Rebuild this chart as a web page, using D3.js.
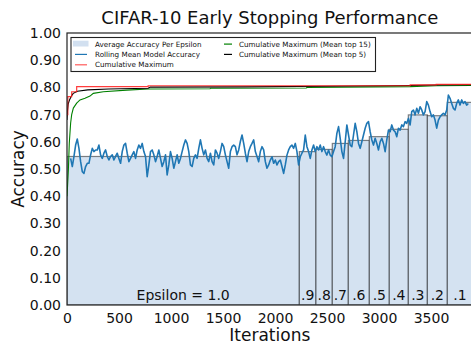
<!DOCTYPE html>
<html>
<head>
<meta charset="utf-8">
<script src="https://cdn.jsdelivr.net/npm/d3@7"></script>
<style>
  html, body { margin: 0; padding: 0; background: #fff; }
  svg { display: block; font-family: "DejaVu Sans", sans-serif; }
</style>
</head>
<body>
<svg id="chart" width="471" height="344"></svg>
<script>
// ---- data ----
const epsilonLabels = ["Epsilon = 1.0", ".9", ".8", ".7", ".6", ".5", ".4", ".3", ".2", ".1"];
const epsilonStarts = [0, 2234, 2394, 2551, 2705, 2907, 3099, 3282, 3465, 3657];
const lastIteration = 3900;
const epsilonAverages = [0.546, 0.564, 0.572, 0.594, 0.605, 0.619, 0.646, 0.699, 0.696, 0.745];

// rolling mean of model accuracy, sampled every 16 iterations from iteration 35
const rollingStart = 35;
const rollingStep = 16;
const rollingMean = [
  0.539, 0.509, 0.546, 0.588, 0.610, 0.576, 0.527, 0.490, 0.484, 0.509,
  0.521, 0.521, 0.552, 0.576, 0.564, 0.570, 0.570, 0.588, 0.552, 0.539,
  0.558, 0.570, 0.546, 0.533, 0.546, 0.552, 0.533, 0.546, 0.558, 0.539,
  0.521, 0.564, 0.588, 0.594, 0.558, 0.527, 0.539, 0.552, 0.564, 0.539,
  0.570, 0.588, 0.576, 0.594, 0.564, 0.546, 0.472, 0.515, 0.564, 0.570,
  0.552, 0.527, 0.546, 0.570, 0.539, 0.509, 0.527, 0.552, 0.478, 0.515,
  0.564, 0.539, 0.503, 0.527, 0.552, 0.521, 0.539, 0.564, 0.588, 0.607,
  0.594, 0.564, 0.515, 0.509, 0.539, 0.552, 0.539, 0.576, 0.607, 0.576,
  0.552, 0.570, 0.539, 0.527, 0.558, 0.527, 0.515, 0.570, 0.558, 0.539,
  0.564, 0.594, 0.582, 0.552, 0.527, 0.503, 0.564, 0.582, 0.588, 0.582,
  0.552, 0.570, 0.601, 0.625, 0.594, 0.558, 0.527, 0.564, 0.582, 0.594,
  0.607, 0.564, 0.546, 0.527, 0.564, 0.582, 0.570, 0.527, 0.503, 0.515,
  0.533, 0.545, 0.521, 0.533, 0.515, 0.527, 0.533, 0.509, 0.484, 0.515,
  0.551, 0.570, 0.582, 0.588, 0.576, 0.594, 0.564, 0.515, 0.545, 0.558,
  0.570, 0.625, 0.582, 0.564, 0.539, 0.570, 0.588, 0.564, 0.582, 0.570,
  0.588, 0.564, 0.582, 0.564, 0.551, 0.570, 0.551, 0.545, 0.564, 0.582,
  0.631, 0.656, 0.613, 0.564, 0.539, 0.600, 0.662, 0.625, 0.588, 0.582,
  0.625, 0.668, 0.637, 0.594, 0.576, 0.600, 0.625, 0.650, 0.668, 0.674,
  0.637, 0.607, 0.588, 0.613, 0.594, 0.570, 0.600, 0.613, 0.594, 0.564,
  0.607, 0.643, 0.637, 0.662, 0.643, 0.637, 0.619, 0.650, 0.643, 0.662,
  0.656, 0.674, 0.668, 0.686, 0.662, 0.711, 0.717, 0.699, 0.723, 0.705,
  0.729, 0.717, 0.699, 0.711, 0.748, 0.735, 0.711, 0.692, 0.699, 0.680,
  0.650, 0.680, 0.692, 0.699, 0.705, 0.699, 0.717, 0.772, 0.760, 0.741,
  0.723, 0.717, 0.741, 0.754, 0.735, 0.754, 0.741, 0.748, 0.735, 0.741
];

// cumulative maximum (step function): iteration, accuracy
const cumMaxIter  = [0, 8, 45, 93, 780, 3300, 3550, 3900];
const cumMaxValue = [0.700, 0.766, 0.784, 0.803, 0.806, 0.809, 0.811, 0.811];

// cumulative maximum, mean of top 5
const top5Iter  = [0, 5, 12, 25, 45, 60, 100, 200, 400, 780, 800, 1700, 2500, 3300, 3550, 3900];
const top5Value = [0.680, 0.715, 0.740, 0.755, 0.770, 0.778, 0.786, 0.791, 0.794, 0.797, 0.801, 0.802, 0.804, 0.807, 0.809, 0.810];

// cumulative maximum, mean of top 15
const top15Iter  = [0, 3, 13, 22, 35, 45, 61, 93, 125, 173, 221, 253, 349, 574, 782, 1375, 1380, 2300, 2310, 3300, 3550, 3900];
const top15Value = [0.400, 0.420, 0.496, 0.595, 0.669, 0.700, 0.724, 0.742, 0.754, 0.760, 0.768, 0.778, 0.784, 0.790, 0.794, 0.795, 0.797, 0.798, 0.800, 0.803, 0.806, 0.807];

const yTicks = [0, 0.1, 0.2, 0.3, 0.4, 0.5, 0.6, 0.7, 0.8, 0.9, 1.0];
const xTicks = [0, 500, 1000, 1500, 2000, 2500, 3000, 3500];

const legendItems = [
  { label: "Average Accuracy Per Epsilon", kind: "patch", color: "#d2e0f0", col: 0, row: 0 },
  { label: "Rolling Mean Model Accuracy", kind: "line", color: "#1f77b4", col: 0, row: 1 },
  { label: "Cumulative Maximum", kind: "line", color: "#ff5a5a", col: 0, row: 2 },
  { label: "Cumulative Maximum (Mean top 15)", kind: "line", color: "#008000", col: 1, row: 0 },
  { label: "Cumulative Maximum (Mean top 5)", kind: "line", color: "#000000", col: 1, row: 1 }
];

// ---- layout ----
const svg = d3.select("#chart");
const plot = { left: 67, top: 33, right: 472.6, bottom: 305 };

const x = d3.scaleLinear().domain([0, lastIteration]).range([plot.left, plot.right]);
const y = d3.scaleLinear().domain([0, 1]).range([plot.bottom, plot.top]);

svg.append("defs").append("clipPath").attr("id", "plotClip")
  .append("rect")
  .attr("x", plot.left).attr("y", plot.top)
  .attr("width", plot.right - plot.left).attr("height", plot.bottom - plot.top);

const g = svg.append("g").attr("clip-path", "url(#plotClip)");

// average accuracy per epsilon as bars
const segments = epsilonStarts.map((s, i) => ({
  start: s,
  end: i + 1 < epsilonStarts.length ? epsilonStarts[i + 1] : lastIteration,
  avg: epsilonAverages[i],
  label: epsilonLabels[i]
}));

g.selectAll("rect.eps")
  .data(segments)
  .join("rect")
  .attr("class", "eps")
  .attr("x", d => x(d.start))
  .attr("y", d => y(d.avg))
  .attr("width", d => x(d.end) - x(d.start))
  .attr("height", d => y(0) - y(d.avg))
  .attr("fill", "#d4e2f1")
  .attr("stroke", "#000")
  .attr("stroke-opacity", 0.48)
  .attr("stroke-width", 1.2);

// rolling mean line
const rolling = rollingMean.map((v, i) => [rollingStart + i * rollingStep, v]);
g.append("path")
  .datum(rolling)
  .attr("fill", "none")
  .attr("stroke", "#1f77b4")
  .attr("stroke-width", 1.6)
  .attr("stroke-linejoin", "round")
  .attr("d", d3.line().x(d => x(d[0])).y(d => y(d[1])));

// cumulative maximum curves
function zip(a, b) { return a.map((v, i) => [v, b[i]]); }

g.append("path")
  .datum(zip(top15Iter, top15Value))
  .attr("fill", "none").attr("stroke", "#008000").attr("stroke-width", 1.1)
  .attr("d", d3.line().x(d => x(d[0])).y(d => y(d[1])));

g.append("path")
  .datum(zip(top5Iter, top5Value))
  .attr("fill", "none").attr("stroke", "#000").attr("stroke-width", 1.1)
  .attr("d", d3.line().x(d => x(d[0])).y(d => y(d[1])));

g.append("path")
  .datum(zip(cumMaxIter, cumMaxValue))
  .attr("fill", "none").attr("stroke", "#ff1a1a").attr("stroke-opacity", 0.85).attr("stroke-width", 1.2)
  .attr("d", d3.line().curve(d3.curveStepAfter).x(d => x(d[0])).y(d => y(d[1])));

// epsilon labels
g.selectAll("text.eps")
  .data(segments)
  .join("text")
  .attr("class", "eps")
  .attr("x", d => (x(d.start) + x(d.end)) / 2)
  .attr("y", 300)
  .attr("text-anchor", "middle")
  .attr("font-size", 14)
  .attr("fill", "#111")
  .text(d => d.label);

// frame
svg.append("rect")
  .attr("x", plot.left).attr("y", plot.top)
  .attr("width", plot.right - plot.left).attr("height", plot.bottom - plot.top)
  .attr("fill", "none").attr("stroke", "#222").attr("stroke-width", 1.2);

// axes
const yAxis = svg.append("g")
  .attr("transform", `translate(${plot.left},0)`)
  .call(d3.axisLeft(y).tickValues(yTicks).tickFormat(d3.format(".2f")).tickSize(0).tickPadding(6));
const xAxis = svg.append("g")
  .attr("transform", `translate(0,${plot.bottom})`)
  .call(d3.axisBottom(x).tickValues(xTicks).tickFormat(d3.format("d")).tickSize(0).tickPadding(8));
[yAxis, xAxis].forEach(a => {
  a.select(".domain").remove();
  a.selectAll("text").attr("font-size", 14).attr("fill", "#111").attr("font-family", "DejaVu Sans, sans-serif");
});

// titles
svg.append("text")
  .attr("x", (plot.left + plot.right) / 2).attr("y", 24)
  .attr("text-anchor", "middle").attr("font-size", 18).attr("fill", "#111")
  .text("CIFAR-10 Early Stopping Performance");

svg.append("text")
  .attr("x", (plot.left + plot.right) / 2).attr("y", 341)
  .attr("text-anchor", "middle").attr("font-size", 17).attr("fill", "#111")
  .text("Iterations");

svg.append("text")
  .attr("transform", `translate(24,${(plot.top + plot.bottom) / 2}) rotate(-90)`)
  .attr("text-anchor", "middle").attr("font-size", 17).attr("fill", "#111")
  .text("Accuracy");

// legend
const legend = svg.append("g");
legend.append("rect")
  .attr("x", 71).attr("y", 37.5).attr("width", 304.5).attr("height", 34)
  .attr("fill", "#fff").attr("stroke", "#222").attr("stroke-width", 1.1);

const colX = [73, 224];
const textX = [95, 239];
const rowY = [46.7, 57, 67.4];

legendItems.forEach(item => {
  const hx = colX[item.col];
  const ty = rowY[item.row];
  if (item.kind === "patch") {
    legend.append("rect")
      .attr("x", hx).attr("y", ty - 6).attr("width", 15.5).attr("height", 5.8)
      .attr("fill", item.color);
  } else {
    const x0 = item.col === 0 ? hx + 2 : hx;
    const x1 = item.col === 0 ? hx + 14 : hx + 8;
    legend.append("line")
      .attr("x1", x0).attr("x2", x1).attr("y1", ty - 2.6).attr("y2", ty - 2.6)
      .attr("stroke", item.color).attr("stroke-width", 1.2);
  }
  legend.append("text")
    .attr("x", textX[item.col]).attr("y", ty)
    .attr("font-size", 7.2).attr("fill", "#111")
    .text(item.label);
});
</script>
</body>
</html>
